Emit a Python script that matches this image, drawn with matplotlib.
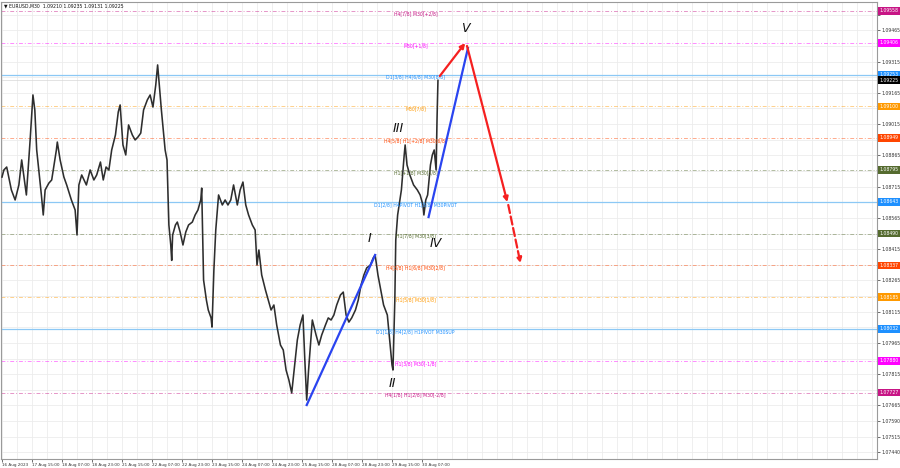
import matplotlib
matplotlib.use("Agg")
import matplotlib.pyplot as plt
import matplotlib.transforms as mtransforms

# M30 bars counted from the first bar on the chart (16 Aug 2023 23:00)
bars = [0, 2, 5, 10, 14, 18, 21, 26, 30, 33, 35, 37, 42, 44, 46, 50, 53, 58, 59, 62,
        66, 69, 74, 78, 80, 82, 85, 90, 94, 98, 101, 105, 108, 111, 114, 117, 121, 124, 126, 129,
        132, 135, 139, 142, 145, 148, 151, 155, 158, 161, 164, 166, 170, 172, 174, 176, 178, 180, 181, 182,
        185, 187, 190, 193, 196, 199, 203, 206, 209, 212, 213, 215, 218, 220, 223, 224, 226, 228, 231, 235,
        238, 241, 244, 247, 251, 254, 257, 260, 263, 267, 270, 272, 274, 277, 281, 284, 287, 290, 293, 297,
        300, 303, 306, 309, 311, 315, 318, 321, 323, 325, 327, 329, 331, 335, 338, 341, 345, 348, 351, 354,
        357, 361, 364, 367, 370, 373, 377, 380, 383, 386, 389, 393, 396, 398, 401, 404, 407, 411, 414, 416,
        417, 419, 420, 422, 426, 429, 430, 432, 435, 437, 439, 443, 446, 449, 450, 452, 454, 457, 459, 461,
        463, 464, 465]
close = [1.08761, 1.08795, 1.08809, 1.08699, 1.08651, 1.08723, 1.08843, 1.08675, 1.08939, 1.09155,
         1.09083, 1.08891, 1.08675, 1.08579, 1.08699, 1.08732, 1.08747, 1.08891, 1.08929, 1.08843,
         1.08761, 1.08723, 1.08651, 1.08603, 1.08483, 1.08723, 1.08771, 1.08723, 1.08795, 1.08747,
         1.08771, 1.08833, 1.08747, 1.08809, 1.08795, 1.08891, 1.08963, 1.09073, 1.09107, 1.08915,
         1.08867, 1.09011, 1.08963, 1.08939, 1.08953, 1.08972, 1.09083, 1.09131, 1.09155, 1.09097,
         1.09203, 1.09299, 1.09083, 1.08987, 1.08891, 1.08843, 1.08531, 1.08435, 1.08361, 1.08483,
         1.08531, 1.08545, 1.08497, 1.08435, 1.08497, 1.08531, 1.08545, 1.08579, 1.08603, 1.08651,
         1.08708, 1.08267, 1.08171, 1.08123, 1.08085, 1.08041, 1.08315, 1.08507, 1.08675, 1.08627,
         1.08651, 1.08627, 1.08651, 1.08723, 1.08627, 1.08699, 1.08737, 1.08627, 1.08579, 1.08531,
         1.08507, 1.08339, 1.08411, 1.08291, 1.08219, 1.08171, 1.08123, 1.08147, 1.08051, 1.07955,
         1.07931, 1.07835, 1.07787, 1.07725, 1.07811, 1.07979, 1.08051, 1.08099, 1.07883, 1.07691,
         1.07835, 1.07955, 1.08075, 1.08003, 1.07955, 1.08003, 1.08051, 1.08085, 1.08075, 1.08099,
         1.08147, 1.08195, 1.08209, 1.08099, 1.08065, 1.08085, 1.08123, 1.08171, 1.08243, 1.08291,
         1.08325, 1.08339, 1.08373, 1.08387, 1.08291, 1.08219, 1.08147, 1.08099, 1.07955, 1.07859,
         1.07835, 1.08171, 1.08459, 1.08579, 1.08699, 1.08867, 1.08915, 1.08819, 1.08771, 1.08747,
         1.08723, 1.08699, 1.08675, 1.08627, 1.08579, 1.08651, 1.08675, 1.08819, 1.08867, 1.08891,
         1.08795, 1.09035, 1.09225]

# Murrey math levels
levels = [1.09558, 1.09406, 1.09253, 1.09100, 1.08949, 1.08795, 1.08643,
          1.08490, 1.08337, 1.08185, 1.08032, 1.07880, 1.07727]
level_names = ["H4[7/8] M30[+2/8]", "M30[+1/8]", "D1[3/8] H4[6/8] M30[8/8]", "M30[7/8]",
               "H4[5/8] H1[+2/8] M30[6/8]", "H1[+1/8] M30[5/8]", "D1[2/8] H4PIVOT H1[8/8] M30PIVOT",
               "H1[7/8] M30[3/8]", "H4[3/8] H1[6/8] M30[2/8]", "H1[5/8] M30[1/8]",
               "D1[1/8] H4[2/8] H1PIVOT M30SUP", "H1[3/8] M30[-1/8]", "H4[1/8] H1[2/8] M30[-2/8]"]
level_colors = ["#c71585", "#ff00ff", "#1e90ff", "#ff9900", "#ff4500", "#556b2f", "#1e90ff",
                "#556b2f", "#ff4500", "#ff9900", "#1e90ff", "#ff00ff", "#c71585"]

last_price = 1.09225

price_ticks = [1.07440, 1.07515, 1.07590, 1.07665, 1.07740, 1.07815, 1.07890, 1.07965,
               1.08040, 1.08115, 1.08190, 1.08265, 1.08340, 1.08415, 1.08490, 1.08565,
               1.08640, 1.08715, 1.08790, 1.08865, 1.08940, 1.09015, 1.09090, 1.09165,
               1.09240, 1.09315, 1.09390, 1.09465, 1.09540]
date_ticks = [0, 32, 64, 96, 128, 160, 192, 224, 256, 288, 320, 352, 384, 416, 448]
date_labels = ["16 Aug 2023", "17 Aug 15:00", "18 Aug 07:00", "18 Aug 23:00", "21 Aug 15:00",
               "22 Aug 07:00", "22 Aug 23:00", "23 Aug 15:00", "24 Aug 07:00", "24 Aug 23:00",
               "25 Aug 15:00", "28 Aug 07:00", "28 Aug 23:00", "29 Aug 15:00", "30 Aug 07:00"]

# Elliott wave markup
blue_bars = [[325, 398], [455, 497]]
blue_prices = [[1.07667, 1.08387], [1.08569, 1.09380]]
red_bars = [[467, 494], [496, 539], [540, 553]]
red_prices = [[1.09246, 1.09404], [1.09390, 1.08641], [1.08627, 1.08348]]
red_styles = ["-", "-", "--"]
wave_names = ["I", "II", "III", "IV", "V"]
wave_bars = [392, 416, 423, 463, 494]
wave_prices = [1.08468, 1.07772, 1.08996, 1.08444, 1.09476]

fig = plt.figure(figsize=(9, 4.68), dpi=100)
ax = fig.add_axes([1 / 900, 9 / 468, 876 / 900, 457 / 468])
ax.set_xlim(-1.07, 933.3)
ax.set_ylim(1.07408, 1.09601)

# grid
for b in range(0, 934, 16):
    ax.axvline(b, color="#ececec", lw=0.6, zorder=0)
for p in price_ticks:
    ax.axhline(p, color="#ececec", lw=0.6, zorder=0)

# levels
for lvl, name, c in zip(levels, level_names, level_colors):
    if c == "#1e90ff":
        ax.axhline(lvl, color="#8cc8f5", lw=0.9, zorder=1)
    else:
        ax.axhline(lvl, color=c, lw=0.7, alpha=0.45, ls=(0, (4, 2, 1, 2)), zorder=1)
    ax.text(441, lvl - 0.00001, name, color=c, fontsize=3.3, ha="center", va="top", zorder=4)
ax.axhline(last_price, color="#d8d8d8", lw=0.5, zorder=1)

# price
ax.plot(bars, close, color="#2e2e2e", lw=1.15, zorder=3)

# waves
for bx, py in zip(blue_bars, blue_prices):
    ax.plot(bx, py, color="#2a44f0", lw=1.6, zorder=5)
for bx, py, ls in zip(red_bars, red_prices, red_styles):
    ax.annotate("", xy=(bx[1], py[1]), xytext=(bx[0], py[0]), zorder=6,
                arrowprops=dict(arrowstyle="-|>", color="#f52020", lw=1.6, ls=ls,
                                mutation_scale=7, shrinkA=0, shrinkB=0))
for name, bx, py in zip(wave_names, wave_bars, wave_prices):
    ax.text(bx, py, name, fontsize=9, style="italic", ha="center", va="center",
            color="#111111", zorder=6)

# axes look
for s in ax.spines.values():
    s.set_color("#9a9a9a")
    s.set_linewidth(0.8)
ax.yaxis.tick_right()
# tick labels that sit under a coloured price box are hidden, as in the terminal
boxed = levels + [last_price]
ax.set_yticks(price_ticks)
ax.set_yticklabels(["" if min(abs(p - b) for b in boxed) < 0.0003 else "%.5f" % p
                    for p in price_ticks])
ax.set_xticks(date_ticks)
ax.set_xticklabels(date_labels, ha="left")
ax.tick_params(axis="y", labelsize=3.3, colors="#333333", length=2, pad=1.5, width=0.5)
ax.tick_params(axis="x", labelsize=3.0, colors="#333333", length=2, pad=1, width=0.5)

trans = mtransforms.blended_transform_factory(ax.transAxes, ax.transData)
for lvl, c in zip(levels + [last_price], level_colors + ["black"]):
    ax.text(1.0025, lvl, "%.5f" % lvl, transform=trans, fontsize=3.3, color="white",
            ha="left", va="center", clip_on=False, zorder=10,
            bbox=dict(boxstyle="square,pad=0.3", fc=c, ec="none"))

fig.text(0.004, 0.993, "\u25bc EURUSD,M30  1.09210 1.09235 1.09131 1.09225",
         fontsize=3.3, va="top", ha="left", color="#111111")

fig.savefig("out.png", dpi=100)
